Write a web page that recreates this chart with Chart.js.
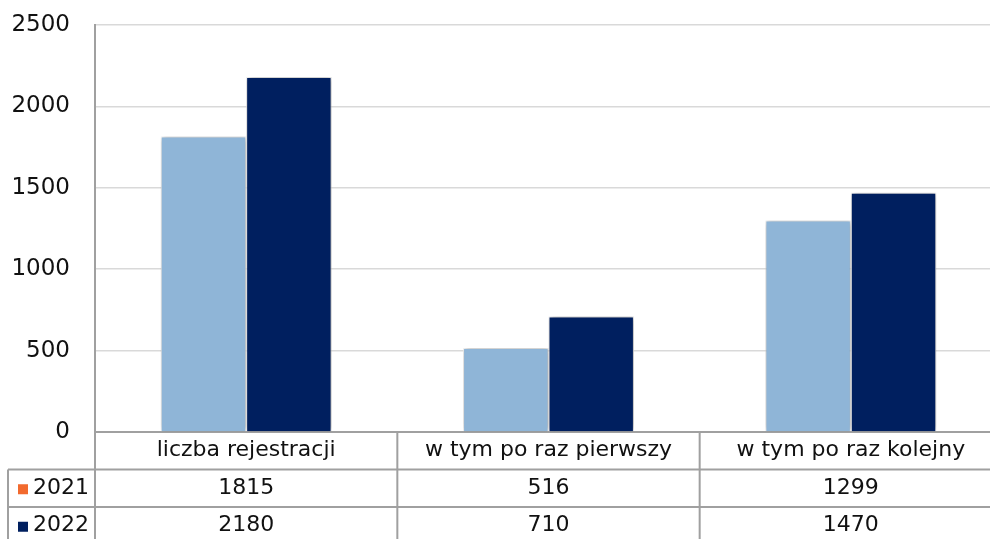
<!DOCTYPE html>
<html>
<head>
<meta charset="utf-8">
<script src="https://cdn.jsdelivr.net/npm/chart.js@4.4.0/dist/chart.umd.min.js"></script>
<style>
  html, body { margin: 0; padding: 0; background: #fff; overflow: hidden; }
  #wrap { width: 1010px; height: 539px; }
</style>
</head>
<body>
<div id="wrap"><canvas id="chart" width="1010" height="539"></canvas></div>
<script>
// Dane wykresu
const categories = ['liczba rejestracji', 'w tym po raz pierwszy', 'w tym po raz kolejny'];
const seriesNames = ['2021', '2022'];
const values2021 = [1815, 516, 1299];
const values2022 = [2180, 710, 1470];
const yTicks = [0, 500, 1000, 1500, 2000, 2500];

const barColors = ['#8FB5D7', '#001F5F'];
// w oryginale kwadracik legendy 2021 jest pomarańczowy
const legendColors = ['#F26A2E', '#001F5F'];
const lineGray = '#A0A0A0';
const FONT = "'DejaVu Sans', sans-serif";

// Cień pod słupkami
const shadowPlugin = {
    id: 'barShadow',
    beforeDatasetsDraw(chart) {
        const ctx = chart.ctx;
        ctx.save();
        ctx.shadowColor = 'rgba(0,0,0,0.4)';
        ctx.shadowBlur = 6;
        ctx.shadowOffsetX = 1;
        ctx.shadowOffsetY = 0;
    },
    afterDatasetsDraw(chart) {
        chart.ctx.restore();
    }
};

// Tabela danych pod osią X
const tablePlugin = {
    id: 'dataTable',
    afterDraw(chart) {
        const ctx = chart.ctx;
        const area = chart.chartArea;
        const x = chart.scales.x;
        const rowH = 37.5;
        const top = area.bottom;
        const row1 = top + rowH;
        const row2 = row1 + rowH;
        const leftEdge = 8;
        const bottom = chart.height + 5;

        ctx.save();
        ctx.strokeStyle = lineGray;
        ctx.lineWidth = 2;

        // linie pionowe
        const seps = [area.left];
        for (let i = 0; i < categories.length - 1; i++) {
            seps.push((x.getPixelForTick(i) + x.getPixelForTick(i + 1)) / 2);
        }
        ctx.beginPath();
        seps.forEach(px => { ctx.moveTo(px, top); ctx.lineTo(px, bottom); });
        ctx.moveTo(leftEdge, row1); ctx.lineTo(leftEdge, bottom);
        // linie poziome
        ctx.moveTo(leftEdge, row1); ctx.lineTo(area.right, row1);
        ctx.moveTo(leftEdge, row2); ctx.lineTo(area.right, row2);
        ctx.stroke();

        ctx.fillStyle = '#111';
        ctx.textAlign = 'center';
        ctx.textBaseline = 'middle';
        ctx.font = '22px ' + FONT;
        categories.forEach((c, i) => {
            ctx.fillText(c, x.getPixelForTick(i), top + rowH / 2);
        });
        const rows = [values2021, values2022];
        rows.forEach((vals, r) => {
            const cy = row1 + rowH * r + rowH / 2;
            vals.forEach((v, i) => {
                ctx.fillText(String(v), x.getPixelForTick(i), cy);
            });
            // legenda w pierwszej kolumnie
            ctx.fillStyle = legendColors[r];
            ctx.fillRect(18, cy - 4, 10, 10);
            ctx.fillStyle = '#111';
            ctx.textAlign = 'left';
            ctx.fillText(seriesNames[r], 33, cy);
            ctx.textAlign = 'center';
        });
        ctx.restore();
    }
};

new Chart(document.getElementById('chart'), {
    type: 'bar',
    data: {
        labels: categories,
        datasets: [
            { label: seriesNames[0], data: values2021, backgroundColor: barColors[0] },
            { label: seriesNames[1], data: values2022, backgroundColor: barColors[1] }
        ]
    },
    options: {
        responsive: false,
        animation: false,
        layout: { padding: { top: 25, right: 8, bottom: 107, left: 0 } },
        datasets: {
            bar: {
                categoryPercentage: 0.565,
                barPercentage: 1,
                borderColor: '#ffffff',
                borderWidth: 1
            }
        },
        plugins: {
            legend: { display: false },
            tooltip: { enabled: false }
        },
        scales: {
            x: {
                ticks: { display: false, padding: 0 },
                grid: { display: false, drawTicks: false },
                border: { display: true, color: lineGray, width: 2 }
            },
            y: {
                min: 0,
                max: 2500,
                afterBuildTicks(scale) { scale.ticks = yTicks.map(v => ({ value: v })); },
                afterFit(scale) { scale.width = 95; },
                ticks: {
                    padding: 0,
                    color: '#111',
                    font: { family: FONT, size: 23 },
                    callback: v => String(v)
                },
                grid: { color: '#D9D9D9', lineWidth: 1.5, drawTicks: true, tickLength: 25, tickColor: 'rgba(0,0,0,0)' },
                border: { display: true, color: lineGray, width: 2 }
            }
        }
    },
    plugins: [shadowPlugin, tablePlugin]
});
</script>
</body>
</html>
